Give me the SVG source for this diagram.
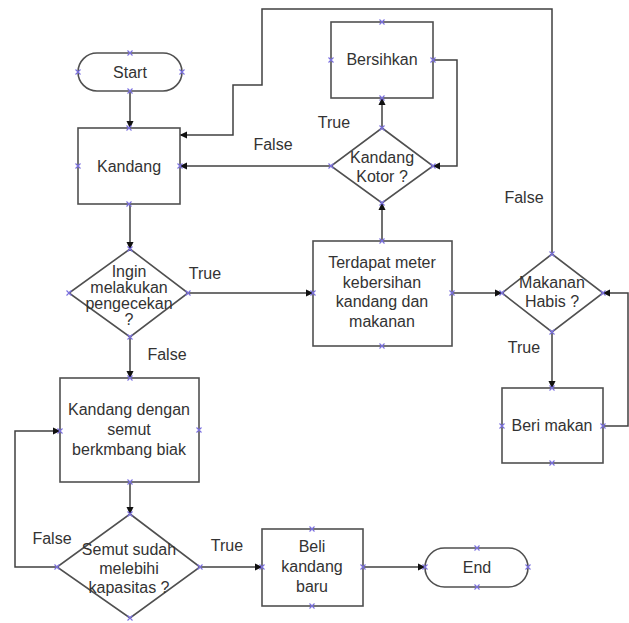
<svg xmlns="http://www.w3.org/2000/svg" xmlns:xlink="http://www.w3.org/1999/xlink" width="629" height="623" viewBox="0 0 629 623">
<style>
.shape{fill:#fff;stroke:#505050;stroke-width:1.6}
.conn{fill:none;stroke:#404040;stroke-width:1.5}
text{font-family:"Liberation Sans",Arial,sans-serif;font-size:16px;fill:#333;text-anchor:middle}
.pt{stroke:#7a6fe0;stroke-width:1.1;fill:none}
</style>
<defs>
<marker id="arr" markerWidth="8" markerHeight="8" refX="7" refY="4" orient="auto" markerUnits="userSpaceOnUse">
<path d="M0,0.5 L7.5,4 L0,7.5 Z" fill="#111"/>
</marker>
<path id="x" class="pt" d="M-2.5,-2.5 L2.5,2.5 M-2.5,2.5 L2.5,-2.5"/>
</defs>
<rect width="629" height="623" fill="#fff"/>
<g id="connectors">
<path class="conn" d="M130,91 V128" marker-end="url(#arr)"/>
<path class="conn" d="M130,204 V249" marker-end="url(#arr)"/>
<path class="conn" d="M188,293 H313" marker-end="url(#arr)"/>
<path class="conn" d="M130,337 V378" marker-end="url(#arr)"/>
<path class="conn" d="M382,241 V203" marker-end="url(#arr)"/>
<path class="conn" d="M382,128 V98" marker-end="url(#arr)"/>
<path class="conn" d="M433,60 H457 V166 H433" marker-end="url(#arr)"/>
<path class="conn" d="M331,166 H180" marker-end="url(#arr)"/>
<path class="conn" d="M452,293 H502" marker-end="url(#arr)"/>
<path class="conn" d="M552,254 V9 H262 V85 H233 V135 H180" marker-end="url(#arr)"/>
<path class="conn" d="M552,332 V388" marker-end="url(#arr)"/>
<path class="conn" d="M603,426 H628 V293 H603" marker-end="url(#arr)"/>
<path class="conn" d="M130,482 V514" marker-end="url(#arr)"/>
<path class="conn" d="M57,567 H15 V431 H60" marker-end="url(#arr)"/>
<path class="conn" d="M200,567 H262" marker-end="url(#arr)"/>
<path class="conn" d="M363,567 H425" marker-end="url(#arr)"/>
<text x="205" y="279">True</text>
<text x="167" y="360">False</text>
<text x="334" y="128">True</text>
<text x="273" y="150">False</text>
<text x="524" y="203">False</text>
<text x="524" y="353">True</text>
<text x="52" y="544">False</text>
<text x="227" y="551">True</text>
</g>
<g id="start">
<rect class="shape" x="78" y="53" width="104" height="38" rx="19" ry="19"/>
<text x="130" y="78">Start</text>
</g>
<g id="kandang">
<rect class="shape" x="78" y="128" width="102" height="76"/>
<text x="129" y="172">Kandang</text>
</g>
<g id="ingin">
<path class="shape" d="M130,249 L188,293 L130,337 L69,293 Z"/>
<text x="129" y="277">Ingin</text>
<text x="129" y="293">melakukan</text>
<text x="129" y="309">pengecekan</text>
<text x="129" y="325">?</text>
</g>
<g id="bersihkan">
<rect class="shape" x="331" y="22" width="102" height="76"/>
<text x="382" y="65">Bersihkan</text>
</g>
<g id="kandang-kotor">
<path class="shape" d="M382,128 L433,166 L382,203 L331,166 Z"/>
<text x="382" y="163">Kandang</text>
<text x="382" y="182">Kotor ?</text>
</g>
<g id="terdapat">
<rect class="shape" x="313" y="241" width="139" height="105"/>
<text x="382" y="268">Terdapat meter</text>
<text x="382" y="288">kebersihan</text>
<text x="382" y="307">kandang dan</text>
<text x="382" y="327">makanan</text>
</g>
<g id="makanan-habis">
<path class="shape" d="M552,254 L603,293 L552,332 L502,293 Z"/>
<text x="552" y="288">Makanan</text>
<text x="552" y="307">Habis ?</text>
</g>
<g id="beri-makan">
<rect class="shape" x="502" y="388" width="101" height="75"/>
<text x="552" y="431">Beri makan</text>
</g>
<g id="kandang-semut">
<rect class="shape" x="60" y="378" width="139" height="104"/>
<text x="129" y="415">Kandang dengan</text>
<text x="129" y="435">semut</text>
<text x="129" y="455">berkmbang biak</text>
</g>
<g id="semut-sudah">
<path class="shape" d="M130,514 L200,567 L130,618 L57,567 Z"/>
<text x="129" y="555">Semut sudah</text>
<text x="129" y="574">melebihi</text>
<text x="129" y="593">kapasitas ?</text>
</g>
<g id="beli">
<rect class="shape" x="262" y="529" width="101" height="77"/>
<text x="312" y="552">Beli</text>
<text x="312" y="572">kandang</text>
<text x="312" y="592">baru</text>
</g>
<g id="end">
<rect class="shape" x="425" y="548" width="103" height="39" rx="19.5" ry="19.5"/>
<text x="477" y="573">End</text>
</g>
<g id="connection-points">
<use xlink:href="#x" x="130" y="53"/><use xlink:href="#x" x="78" y="72"/><use xlink:href="#x" x="182" y="72"/><use xlink:href="#x" x="130" y="91"/>
<use xlink:href="#x" x="129" y="128"/><use xlink:href="#x" x="78" y="166"/><use xlink:href="#x" x="180" y="166"/><use xlink:href="#x" x="129" y="204"/>
<use xlink:href="#x" x="130" y="249"/><use xlink:href="#x" x="69" y="293"/><use xlink:href="#x" x="188" y="293"/><use xlink:href="#x" x="130" y="337"/>
<use xlink:href="#x" x="382" y="22"/><use xlink:href="#x" x="331" y="60"/><use xlink:href="#x" x="433" y="60"/><use xlink:href="#x" x="382" y="98"/>
<use xlink:href="#x" x="382" y="128"/><use xlink:href="#x" x="331" y="166"/><use xlink:href="#x" x="433" y="166"/><use xlink:href="#x" x="382" y="203"/>
<use xlink:href="#x" x="382" y="241"/><use xlink:href="#x" x="313" y="293"/><use xlink:href="#x" x="452" y="293"/><use xlink:href="#x" x="382" y="346"/>
<use xlink:href="#x" x="552" y="254"/><use xlink:href="#x" x="502" y="293"/><use xlink:href="#x" x="603" y="293"/><use xlink:href="#x" x="552" y="332"/>
<use xlink:href="#x" x="552" y="388"/><use xlink:href="#x" x="502" y="426"/><use xlink:href="#x" x="603" y="426"/><use xlink:href="#x" x="552" y="463"/>
<use xlink:href="#x" x="130" y="378"/><use xlink:href="#x" x="60" y="431"/><use xlink:href="#x" x="199" y="430"/><use xlink:href="#x" x="130" y="482"/>
<use xlink:href="#x" x="130" y="514"/><use xlink:href="#x" x="57" y="567"/><use xlink:href="#x" x="200" y="567"/><use xlink:href="#x" x="130" y="618"/>
<use xlink:href="#x" x="312" y="529"/><use xlink:href="#x" x="262" y="567"/><use xlink:href="#x" x="363" y="567"/><use xlink:href="#x" x="312" y="606"/>
<use xlink:href="#x" x="477" y="548"/><use xlink:href="#x" x="425" y="567"/><use xlink:href="#x" x="528" y="567"/><use xlink:href="#x" x="477" y="587"/>
</g>
</svg>
